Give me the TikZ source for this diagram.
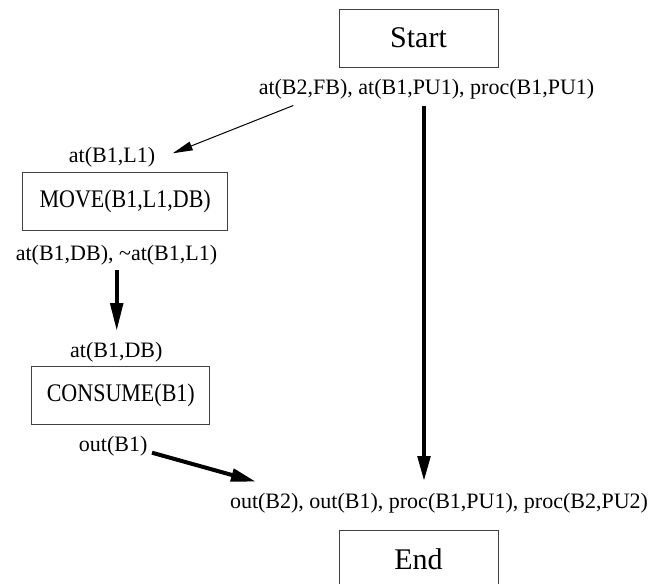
\documentclass[tikz,border=0pt]{standalone}
\usepackage{fontspec}
\setmainfont{Liberation Serif}
\newfontfamily\tallserif[FakeStretch=0.87]{Liberation Serif}
\usetikzlibrary{arrows.meta}
\begin{document}
\begin{tikzpicture}[x=1pt,y={(0pt,-1pt)},
  boxnode/.style={draw=black!75, line width=1pt, inner sep=0pt, minimum height=58pt},
  bigtext/.style={font=\fontsize{30}{36}\selectfont},
  boxtext/.style={font=\tallserif\fontsize{25.3}{30}\selectfont},
  lbl/.style={font=\fontsize{22}{26}\selectfont, inner sep=0pt},
  thinarrow/.style={line width=1pt, -{Triangle[length=20pt,width=9pt]}},
  thickarrow/.style={line width=4pt, -{Triangle[length=25pt,width=12.5pt]}}]
\useasboundingbox (0,0) rectangle (654,584);
\node[boxnode, bigtext, minimum width=159pt] (start) at (418.5,38) {Start};
\node[lbl] (pre0) at (426.5,89) {at(B2,FB), at(B1,PU1), proc(B1,PU1)};
\node[lbl] (preM) at (112,157) {at(B1,L1)};
\node[boxnode, boxtext, minimum width=205pt] (move) at (125.2,201.7) {MOVE(B1,L1,DB)};
\node[lbl] (effM) at (116.5,255) {at(B1,DB), \textasciitilde at(B1,L1)};
\node[lbl] (preC) at (116.3,352) {at(B1,DB)};
\node[boxnode, boxtext, minimum width=178pt] (consume) at (120.8,395) {CONSUME(B1)};
\node[lbl] (effC) at (113.2,446.7) {out(B1)};
\node[lbl] (goal) at (439,503) {out(B2), out(B1), proc(B1,PU1), proc(B2,PU2)};
\node[boxnode, bigtext, minimum width=159pt] (end) at (418.5,559) {End};
\coordinate (a1s) at (293.3,105.5);
\coordinate (a1e) at (172.7,153.3);
\coordinate (a2s) at (424,106);
\coordinate (a2e) at (424,481);
\coordinate (a3s) at (116.7,270);
\coordinate (a3e) at (116.7,331);
\coordinate (a4s) at (152,452.7);
\coordinate (a4e) at (256,481.7);
\draw[thinarrow] (a1s) -- (a1e);
\draw[thickarrow] (a2s) -- (a2e);
\draw[thickarrow, -{Triangle[length=28pt,width=12.5pt]}] (a3s) -- (a3e);
\draw[thickarrow] (a4s) -- (a4e);
\end{tikzpicture}
\end{document}
